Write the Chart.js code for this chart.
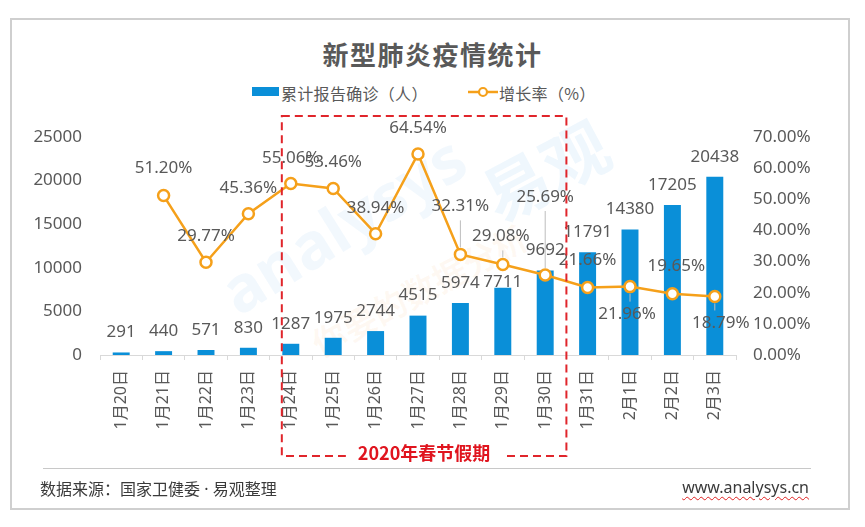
<!DOCTYPE html>
<html>
<head>
<meta charset="utf-8">
<script src="https://cdn.jsdelivr.net/npm/chart.js@4.4.1/dist/chart.umd.min.js"></script>
<style>
  html, body { margin: 0; padding: 0; background: #fff; }
  body { width: 865px; height: 527px; position: relative; overflow: hidden;
         font-family: "Noto Sans CJK SC", "Noto Sans", sans-serif; }
  #frame { position: absolute; left: 10px; top: 18px; width: 840px; height: 492px;
           border: 2px solid #cfcfcf; box-sizing: border-box; }
  #wrap { position: absolute; left: 0; top: 0; width: 865px; height: 527px; }
  #title { position: absolute; left: 0; width: 865px; top: 36px; text-align: center;
           font-size: 26px; font-weight: bold; color: #595959; letter-spacing: 1.5px; line-height: 36px; }
  .lg { position: absolute; top: 81px; font-size: 16px; color: #595959; line-height: 24px; letter-spacing: 0.3px; }
  #lgBar { position: absolute; left: 252px; top: 87px; width: 27px; height: 9px; background: #0a8fd8; }
  #lgLine { position: absolute; left: 467px; top: 84px; }
  #sep { position: absolute; left: 43px; top: 468px; width: 768px; height: 0; border-top: 1.5px solid #c8c8c8; }
  #src { position: absolute; left: 40px; top: 476px; font-size: 16px; color: #3a3a3a; line-height: 24px; }
  #src .dot { font-family: "Noto Sans", sans-serif; }
  #web { position: absolute; right: 56px; top: 475px; font-size: 16px; color: #3a3a3a; line-height: 24px;
         font-family: "Noto Sans", sans-serif;
         text-decoration: underline wavy #e02020; text-decoration-thickness: 1px; text-underline-offset: 3px; }
  .wm { position: absolute; white-space: nowrap; pointer-events: none; font-weight: bold; }
</style>
</head>
<body>
<div id="frame"></div>
<div class="wm" style="left:205px; top:180px; font-size:64px; color:rgba(30,140,220,0.06); transform:rotate(-32deg); font-family:'Noto Sans',sans-serif;">analysys</div>
<div class="wm" style="left:478px; top:120px; font-size:66px; color:rgba(30,140,220,0.07); transform:rotate(-28deg);">易观</div>
<div class="wm" style="left:300px; top:265px; font-size:34px; color:rgba(240,150,60,0.06); transform:rotate(-28deg);">你要的数据分析</div>
<div id="title">新型肺炎疫情统计</div>
<div id="lgBar"></div>
<div class="lg" style="left:281px;">累计报告确诊（人）</div>
<svg id="lgLine" width="32" height="16"><line x1="1" y1="8" x2="31" y2="8" stroke="#f5a01a" stroke-width="2.5"/><circle cx="16" cy="8" r="4" fill="#fff" stroke="#f5a01a" stroke-width="2.2"/></svg>
<div class="lg" style="left:499px;">增长率（%）</div>
<div id="wrap"><canvas id="c"></canvas></div>
<div id="sep"></div>
<div id="src">数据来源：国家卫健委<span class="dot">&nbsp;·&nbsp;</span>易观整理</div>
<div id="web">www.analysys.cn</div>
<script>
// ---- data ----
const categories = ['1月20日','1月21日','1月22日','1月23日','1月24日','1月25日','1月26日','1月27日','1月28日','1月29日','1月30日','1月31日','2月1日','2月2日','2月3日'];
const confirmedCases = [291, 440, 571, 830, 1287, 1975, 2744, 4515, 5974, 7711, 9692, 11791, 14380, 17205, 20438];
const growthRate = [null, 51.20, 29.77, 45.36, 55.06, 53.46, 38.94, 64.54, 32.31, 29.08, 25.69, 21.66, 21.96, 19.65, 18.79];
const leftTicks = [0, 5000, 10000, 15000, 20000, 25000];
const rightTicks = [0, 10, 20, 30, 40, 50, 60, 70];
const holidayFirst = 4;   // 1月24日
const holidayLast = 10;   // 1月30日
const holidayLabel = '2020年春节假期';

// ---- label placement (style) ----
const barLabelDy  = [-20, -20, -20, -20, -20, -20, -20, -20, -20, -6, -20, -20, -20, -20, -20];
const rateLabelDy = [0, -27, -26, -26, -25, -26, -26, -26, -48, -28, -78, -27, 28, -28, 27];
const rateLabelDx = [0, 0, 0, 0, 0, 0, 0, 0, 0, -2, 0, 0, -3, 4, 6];
const rateLeader  = [false, false, false, false, false, false, false, false, true, true, true, false, true, false, true];

const BLUE = '#0a8fd8';
const ORANGE = '#f5a01a';
const GREY = '#595959';
const NUMFONT = '"Noto Sans", "Noto Sans CJK SC", sans-serif';

const labelPlugin = {
  id: 'valueLabels',
  afterDatasetsDraw(chart) {
    const ctx = chart.ctx;
    ctx.save();
    ctx.font = '17px ' + NUMFONT;
    ctx.fillStyle = GREY;
    ctx.textAlign = 'center';
    ctx.textBaseline = 'middle';
    const barMeta = chart.getDatasetMeta(0);
    barMeta.data.forEach((el, i) => {
      ctx.fillText(String(confirmedCases[i]), el.x, el.y + barLabelDy[i]);
    });
    const lineMeta = chart.getDatasetMeta(1);
    lineMeta.data.forEach((el, i) => {
      const v = growthRate[i];
      if (v === null || v === undefined) return;
      const lx = el.x + rateLabelDx[i];
      const ly = el.y + rateLabelDy[i];
      if (rateLeader[i]) {
        ctx.strokeStyle = '#bdbdbd';
        ctx.lineWidth = 1;
        ctx.beginPath();
        if (rateLabelDy[i] < 0) {
          ctx.moveTo(el.x, ly + 14);
          ctx.lineTo(el.x, el.y - 7);
        } else {
          ctx.moveTo(el.x, el.y + 7);
          ctx.lineTo(el.x, ly - 13);
        }
        ctx.stroke();
      }
      ctx.fillStyle = GREY;
      ctx.fillText(v.toFixed(2) + '%', lx, ly);
    });
    ctx.restore();
  }
};

const holidayPlugin = {
  id: 'holidayBox',
  afterDraw(chart) {
    const ctx = chart.ctx;
    const xs = chart.scales.x;
    const area = chart.chartArea;
    const bar = chart.getDatasetMeta(0).data[holidayFirst];
    const left = bar.x - bar.width / 2 - 0.5;
    const right = (xs.getPixelForValue(holidayLast) + xs.getPixelForValue(holidayLast + 1)) / 2;
    const top = area.top - 21;
    const bottom = area.bottom + 101;
    ctx.save();
    ctx.strokeStyle = '#e0252b';
    ctx.lineWidth = 2;
    ctx.setLineDash([8, 5]);
    ctx.strokeRect(left, top, right - left, bottom - top);
    ctx.setLineDash([]);
    ctx.font = 'bold 18px "Noto Sans CJK SC", sans-serif';
    const cx = (left + right) / 2;
    const w = ctx.measureText(holidayLabel).width;
    ctx.fillStyle = '#ffffff';
    ctx.fillRect(cx - w / 2 - 12, bottom - 12, w + 24, 20);
    ctx.fillStyle = '#e0141e';
    ctx.textAlign = 'center';
    ctx.textBaseline = 'middle';
    ctx.fillText(holidayLabel, cx, bottom - 3);
    ctx.restore();
  }
};

new Chart(document.getElementById('c'), {
  data: {
    labels: categories,
    datasets: [
      {
        type: 'bar',
        label: '累计报告确诊（人）',
        data: confirmedCases,
        backgroundColor: BLUE,
        yAxisID: 'y',
        categoryPercentage: 1,
        barPercentage: 0.4,
        order: 2
      },
      {
        type: 'line',
        label: '增长率（%）',
        data: growthRate,
        yAxisID: 'y1',
        borderColor: ORANGE,
        borderWidth: 2.5,
        pointRadius: 5.5,
        pointBorderWidth: 2.5,
        pointBackgroundColor: '#ffffff',
        pointBorderColor: ORANGE,
        tension: 0,
        order: 1
      }
    ]
  },
  options: {
    responsive: true,
    maintainAspectRatio: false,
    animation: false,
    layout: { padding: { top: 137, left: 0, right: 0, bottom: 0 } },
    plugins: { legend: { display: false }, title: { display: false }, tooltip: { enabled: false } },
    scales: {
      x: {
        offset: true,
        grid: { offset: true, drawOnChartArea: false, drawTicks: true, tickLength: 5, color: '#d9d9d9' },
        border: { color: '#d9d9d9', width: 1 },
        ticks: { color: GREY, font: { size: 16, family: NUMFONT }, minRotation: 90, maxRotation: 90, padding: 10, autoSkip: false },
        afterFit(s) { s.height = 172; }
      },
      y: {
        position: 'left',
        min: leftTicks[0], max: leftTicks[leftTicks.length - 1],
        afterBuildTicks(s) { s.ticks = leftTicks.map(v => ({ value: v })); },
        grid: { display: false, drawTicks: false },
        border: { display: false },
        ticks: { color: GREY, font: { size: 17, family: NUMFONT }, padding: 18, callback: v => String(v) },
        afterFit(s) { s.width = 100; }
      },
      y1: {
        position: 'right',
        min: rightTicks[0], max: rightTicks[rightTicks.length - 1],
        afterBuildTicks(s) { s.ticks = rightTicks.map(v => ({ value: v })); },
        grid: { display: false, drawTicks: false },
        border: { display: false },
        ticks: { color: GREY, font: { size: 17, family: NUMFONT }, padding: 17, callback: v => Number(v).toFixed(2) + '%' },
        afterFit(s) { s.width = 129; }
      }
    }
  },
  plugins: [labelPlugin, holidayPlugin]
});
</script>
</body>
</html>
